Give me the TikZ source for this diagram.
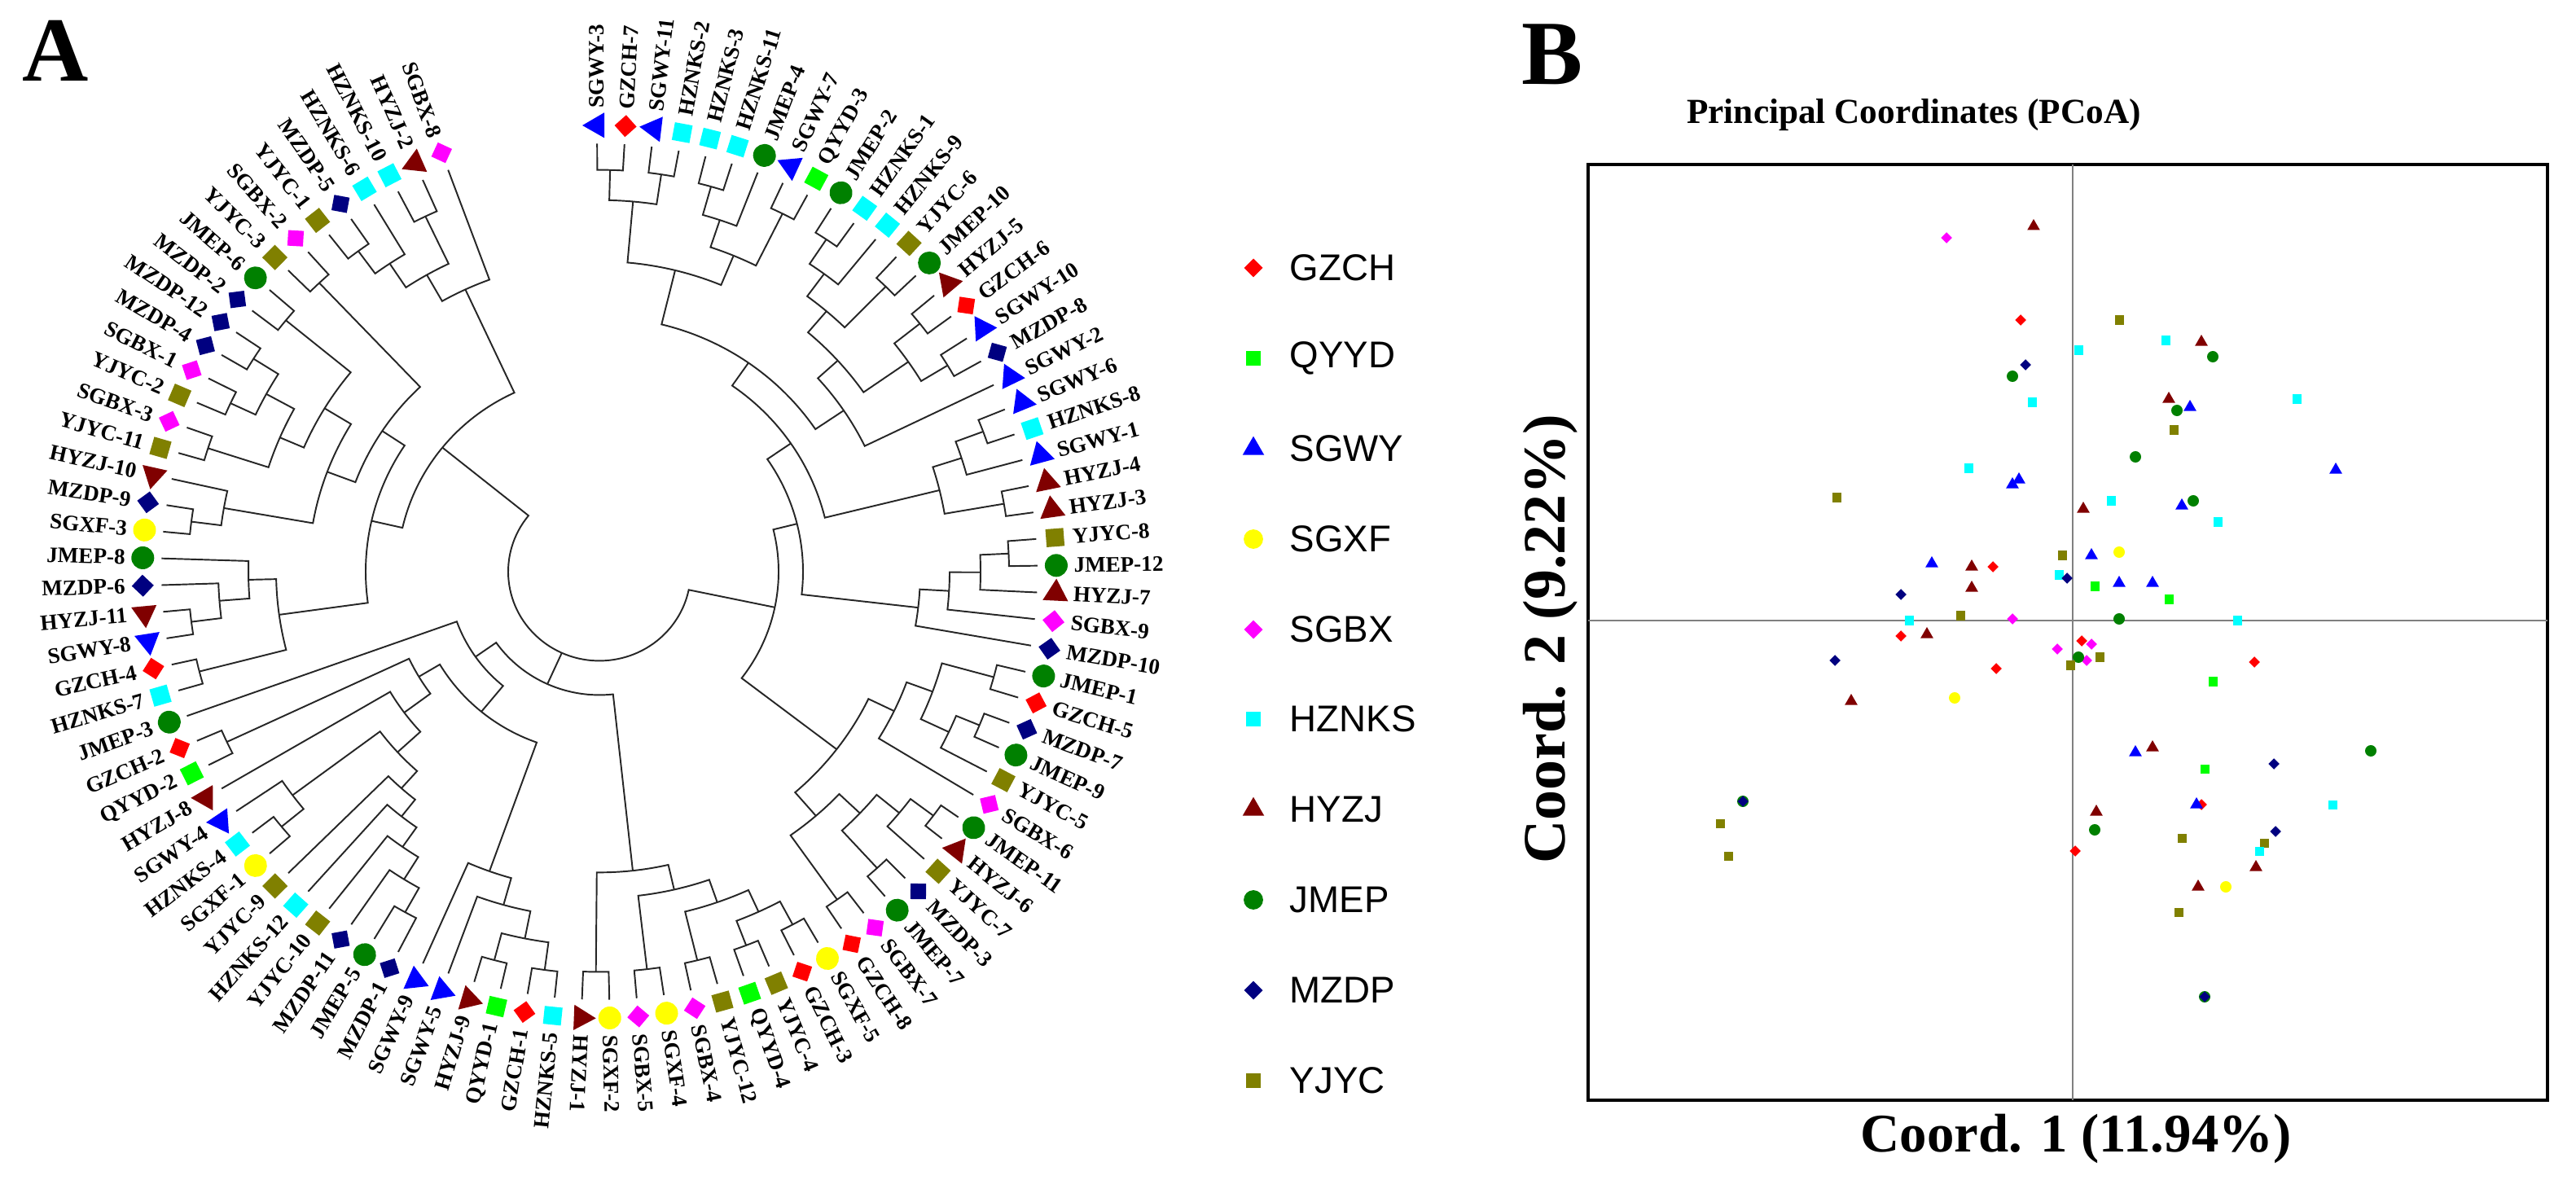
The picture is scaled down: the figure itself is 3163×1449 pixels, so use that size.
\documentclass[tikz,border=0pt]{standalone}
\usepackage{fontspec}
\setmainfont{Liberation Serif}
\newfontfamily\legfont{Liberation Sans}
\usetikzlibrary{shapes.geometric}

\definecolor{cGZCH}{HTML}{FF0000}
\definecolor{cQYYD}{HTML}{00FF00}
\definecolor{cSGWY}{HTML}{0000FF}
\definecolor{cSGXF}{HTML}{FFFF00}
\definecolor{cSGBX}{HTML}{FF00FF}
\definecolor{cHZNKS}{HTML}{00FFFF}
\definecolor{cHYZJ}{HTML}{800000}
\definecolor{cJMEP}{HTML}{008000}
\definecolor{cMZDP}{HTML}{000080}
\definecolor{cYJYC}{HTML}{808000}

\newcommand*{\mks}{1}
\tikzset{
  mk/.style={inner sep=0pt, outer sep=0pt, draw=none},
  gzch/.style={mk, diamond, fill=cGZCH, minimum size=\mks*0.27cm},
  qyyd/.style={mk, rectangle, fill=cQYYD, minimum size=\mks*0.22cm},
  sgwy/.style={mk, regular polygon, regular polygon sides=3, fill=cSGWY, minimum size=\mks*0.36cm},
  sgxf/.style={mk, circle, fill=cSGXF, minimum size=\mks*0.28cm},
  sgbx/.style={mk, diamond, fill=cSGBX, minimum size=\mks*0.27cm},
  hznks/.style={mk, rectangle, fill=cHZNKS, minimum size=\mks*0.22cm},
  hyzj/.style={mk, regular polygon, regular polygon sides=3, fill=cHYZJ, minimum size=\mks*0.36cm},
  jmep/.style={mk, circle, fill=cJMEP, minimum size=\mks*0.28cm},
  mzdp/.style={mk, diamond, fill=cMZDP, minimum size=\mks*0.27cm},
  yjyc/.style={mk, rectangle, fill=cYJYC, minimum size=\mks*0.22cm},
  lab/.style={inner sep=0pt, font=\fontsize{7.7}{8}\selectfont\bfseries},
  leg/.style={inner sep=0pt, anchor=west, font=\legfont\fontsize{13}{15}\selectfont},
  branch/.style={line width=0.55pt, draw=black!85},
}

% leaf: index, label, style
\newcommand{\tleaf}[3]{%
  \pgfmathsetmacro\tla{90.3-(#1-1)*3.58}%
  \expandafter\xdef\csname tA@#1\endcsname{\tla}%
  \expandafter\xdef\csname tR@#1\endcsname{538}%
  \node[#3, rotate=\tla] (m#1) at (\tla:561) {};%
  \ifnum#1<53
    \node[lab, anchor=west, rotate=\tla] (l#1) at (\tla:582) {#2};%
  \else
    \node[lab, anchor=east, rotate=\tla+180] (l#1) at (\tla:582) {#2};%
  \fi
}
% join: name, child, child, radius
\newcommand{\tjoin}[4]{%
  \edef\tca{\csname tA@#2\endcsname}\edef\tcb{\csname tA@#3\endcsname}%
  \edef\tra{\csname tR@#2\endcsname}\edef\trb{\csname tR@#3\endcsname}%
  \draw[branch] (\tca:\tra) -- (\tca:#4) arc[start angle=\tca, end angle=\tcb, radius=#4] -- (\tcb:\trb);%
  \pgfmathsetmacro\tm{(\tca+\tcb)/2}%
  \expandafter\xdef\csname tA@#1\endcsname{\tm}%
  \expandafter\xdef\csname tR@#1\endcsname{#4}%
}
% root with three children
\newcommand{\troot}[4]{%
  \edef\tca{\csname tA@#1\endcsname}\edef\tcb{\csname tA@#2\endcsname}\edef\tcc{\csname tA@#3\endcsname}%
  \edef\tra{\csname tR@#1\endcsname}\edef\trb{\csname tR@#2\endcsname}\edef\trc{\csname tR@#3\endcsname}%
  \draw[branch] (\tca:\tra) -- (\tca:#4) arc[start angle=\tca, end angle=\tcc, radius=#4] -- (\tcc:\trc);%
  \draw[branch] (\tcb:#4) -- (\tcb:\trb);%
}

\begin{document}
\begin{tikzpicture}[x=0.01cm, y=-0.01cm]
\useasboundingbox (0,0) rectangle (3163,1449);

\node[font=\fontsize{32}{34}\selectfont\bfseries] (pA) at (68,62) {A};
\node[font=\fontsize{32}{34}\selectfont\bfseries] (pB) at (1906,67) {B};

% tree
\begin{scope}[shift={(736,702)}, x=0.01cm, y=0.00977cm]
 \tleaf{1}{SGWY-3}{sgwy}
 \tleaf{2}{GZCH-7}{gzch}
 \tleaf{3}{SGWY-11}{sgwy}
 \tleaf{4}{HZNKS-2}{hznks}
 \tleaf{5}{HZNKS-3}{hznks}
 \tleaf{6}{HZNKS-11}{hznks}
 \tleaf{7}{JMEP-4}{jmep}
 \tleaf{8}{SGWY-7}{sgwy}
 \tleaf{9}{QYYD-3}{qyyd}
 \tleaf{10}{JMEP-2}{jmep}
 \tleaf{11}{HZNKS-1}{hznks}
 \tleaf{12}{HZNKS-9}{hznks}
 \tleaf{13}{YJYC-6}{yjyc}
 \tleaf{14}{JMEP-10}{jmep}
 \tleaf{15}{HYZJ-5}{hyzj}
 \tleaf{16}{GZCH-6}{gzch}
 \tleaf{17}{SGWY-10}{sgwy}
 \tleaf{18}{MZDP-8}{mzdp}
 \tleaf{19}{SGWY-2}{sgwy}
 \tleaf{20}{SGWY-6}{sgwy}
 \tleaf{21}{HZNKS-8}{hznks}
 \tleaf{22}{SGWY-1}{sgwy}
 \tleaf{23}{HYZJ-4}{hyzj}
 \tleaf{24}{HYZJ-3}{hyzj}
 \tleaf{25}{YJYC-8}{yjyc}
 \tleaf{26}{JMEP-12}{jmep}
 \tleaf{27}{HYZJ-7}{hyzj}
 \tleaf{28}{SGBX-9}{sgbx}
 \tleaf{29}{MZDP-10}{mzdp}
 \tleaf{30}{JMEP-1}{jmep}
 \tleaf{31}{GZCH-5}{gzch}
 \tleaf{32}{MZDP-7}{mzdp}
 \tleaf{33}{JMEP-9}{jmep}
 \tleaf{34}{YJYC-5}{yjyc}
 \tleaf{35}{SGBX-6}{sgbx}
 \tleaf{36}{JMEP-11}{jmep}
 \tleaf{37}{HYZJ-6}{hyzj}
 \tleaf{38}{YJYC-7}{yjyc}
 \tleaf{39}{MZDP-3}{mzdp}
 \tleaf{40}{JMEP-7}{jmep}
 \tleaf{41}{SGBX-7}{sgbx}
 \tleaf{42}{GZCH-8}{gzch}
 \tleaf{43}{SGXF-5}{sgxf}
 \tleaf{44}{GZCH-3}{gzch}
 \tleaf{45}{YJYC-4}{yjyc}
 \tleaf{46}{QYYD-4}{qyyd}
 \tleaf{47}{YJYC-12}{yjyc}
 \tleaf{48}{SGBX-4}{sgbx}
 \tleaf{49}{SGXF-4}{sgxf}
 \tleaf{50}{SGBX-5}{sgbx}
 \tleaf{51}{SGXF-2}{sgxf}
 \tleaf{52}{HYZJ-1}{hyzj}
 \tleaf{53}{HZNKS-5}{hznks}
 \tleaf{54}{GZCH-1}{gzch}
 \tleaf{55}{QYYD-1}{qyyd}
 \tleaf{56}{HYZJ-9}{hyzj}
 \tleaf{57}{SGWY-5}{sgwy}
 \tleaf{58}{SGWY-9}{sgwy}
 \tleaf{59}{MZDP-1}{mzdp}
 \tleaf{60}{JMEP-5}{jmep}
 \tleaf{61}{MZDP-11}{mzdp}
 \tleaf{62}{YJYC-10}{yjyc}
 \tleaf{63}{HZNKS-12}{hznks}
 \tleaf{64}{YJYC-9}{yjyc}
 \tleaf{65}{SGXF-1}{sgxf}
 \tleaf{66}{HZNKS-4}{hznks}
 \tleaf{67}{SGWY-4}{sgwy}
 \tleaf{68}{HYZJ-8}{hyzj}
 \tleaf{69}{QYYD-2}{qyyd}
 \tleaf{70}{GZCH-2}{gzch}
 \tleaf{71}{JMEP-3}{jmep}
 \tleaf{72}{HZNKS-7}{hznks}
 \tleaf{73}{GZCH-4}{gzch}
 \tleaf{74}{SGWY-8}{sgwy}
 \tleaf{75}{HYZJ-11}{hyzj}
 \tleaf{76}{MZDP-6}{mzdp}
 \tleaf{77}{JMEP-8}{jmep}
 \tleaf{78}{SGXF-3}{sgxf}
 \tleaf{79}{MZDP-9}{mzdp}
 \tleaf{80}{HYZJ-10}{hyzj}
 \tleaf{81}{YJYC-11}{yjyc}
 \tleaf{82}{SGBX-3}{sgbx}
 \tleaf{83}{YJYC-2}{yjyc}
 \tleaf{84}{SGBX-1}{sgbx}
 \tleaf{85}{MZDP-4}{mzdp}
 \tleaf{86}{MZDP-12}{mzdp}
 \tleaf{87}{MZDP-2}{mzdp}
 \tleaf{88}{JMEP-6}{jmep}
 \tleaf{89}{YJYC-3}{yjyc}
 \tleaf{90}{SGBX-2}{sgbx}
 \tleaf{91}{YJYC-1}{yjyc}
 \tleaf{92}{MZDP-5}{mzdp}
 \tleaf{93}{HZNKS-6}{hznks}
 \tleaf{94}{HZNKS-10}{hznks}
 \tleaf{95}{HYZJ-2}{hyzj}
 \tleaf{96}{SGBX-8}{sgbx}
 % right clade
 \tjoin{A1}{1}{2}{505}
 \tjoin{A2}{3}{4}{505}
 \tjoin{A3}{A1}{A2}{467}
 \tjoin{A4}{5}{6}{503}
 \tjoin{A5}{A4}{7}{466}
 \tjoin{A6}{8}{9}{503}
 \tjoin{A7}{A5}{A6}{430}
 \tjoin{A8}{A3}{A7}{390}
 \tjoin{B1}{10}{11}{502}
 \tjoin{B2}{B1}{12}{465}
 \tjoin{C1}{13}{14}{502}
 \tjoin{B3}{B2}{C1}{430}
 \tjoin{C2}{15}{16}{502}
 \tjoin{C3}{17}{18}{500}
 \tjoin{C4}{C2}{C3}{462}
 \tjoin{B4}{B3}{C4}{395}
 \tjoin{D1}{B4}{19}{362}
 \tjoin{A9}{A8}{D1}{320}
 \tjoin{D2}{20}{21}{503}
 \tjoin{D3}{D2}{22}{467}
 \tjoin{D4}{23}{24}{504}
 \tjoin{D5}{D3}{D4}{430}
 \tjoin{G1}{A9}{D5}{285}
 \tjoin{E1}{25}{26}{503}
 \tjoin{E2}{E1}{27}{468}
 \tjoin{E3}{E2}{28}{430}
 \tjoin{E4}{E3}{29}{394}
 \tjoin{G2}{G1}{E4}{250}
 \tjoin{F1}{30}{31}{502}
 \tjoin{F4}{32}{33}{505}
 \tjoin{F5}{F4}{34}{474}
 \tjoin{F6}{F1}{F5}{436}
 \tjoin{F7}{F6}{35}{402}
 \tjoin{R1}{36}{37}{512}
 \tjoin{R2}{R1}{38}{477}
 \tjoin{Q0}{39}{40}{505}
 \tjoin{R3}{R2}{Q0}{441}
 \tjoin{Q1}{41}{42}{505}
 \tjoin{I1}{R3}{Q1}{406}
 \tjoin{H1}{F7}{I1}{367}
 \tjoin{G3}{G2}{H1}{220}
 % bottom clade
 \tjoin{P1}{51}{52}{503}
 \tjoin{P2}{49}{50}{503}
 \tjoin{P3}{47}{48}{503}
 \tjoin{P4}{45}{46}{503}
 \tjoin{P5}{43}{44}{503}
 \tjoin{P6}{P5}{P4}{470}
 \tjoin{P7}{P6}{P3}{440}
 \tjoin{P8}{P7}{P2}{410}
 \tjoin{P9}{P8}{P1}{378}
 \tjoin{U1}{53}{54}{505}
 \tjoin{U2}{55}{56}{505}
 \tjoin{U3}{U1}{U2}{470}
 \tjoin{U4}{U3}{57}{435}
 \tjoin{U5}{U4}{58}{400}
 \tjoin{V1}{59}{60}{490}
 \tjoin{V2}{V1}{61}{455}
 \tjoin{V3}{V2}{62}{422}
 \tjoin{V4}{V3}{63}{392}
 \tjoin{V5}{V4}{64}{365}
 \tjoin{W1}{65}{66}{505}
 \tjoin{W2}{W1}{67}{470}
 \tjoin{Z1}{W2}{V5}{336}
 \tjoin{Z2}{68}{Z1}{298}
 \tjoin{X1}{69}{70}{505}
 \tjoin{Z3}{X1}{Z2}{258}
 \tjoin{Z4}{Z3}{U5}{228}
 \tjoin{Z5}{71}{Z4}{186}
 \tjoin{CII}{Z5}{P9}{155}
 % left clade
 \tjoin{S4}{72}{73}{507}
 \tjoin{S1}{74}{75}{505}
 \tjoin{S2}{76}{S1}{468}
 \tjoin{S3}{77}{S2}{431}
 \tjoin{S5}{S4}{S3}{397}
 \tjoin{T1}{78}{79}{505}
 \tjoin{T2}{T1}{80}{468}
 \tjoin{J1}{81}{82}{505}
 \tjoin{K1}{83}{84}{500}
 \tjoin{M3}{85}{86}{502}
 \tjoin{K2}{K1}{M3}{466}
 \tjoin{K3}{J1}{K2}{427}
 \tjoin{M2}{87}{88}{498}
 \tjoin{K4}{K3}{M2}{395}
 \tjoin{T3}{T2}{K4}{357}
 \tjoin{M1}{89}{90}{500}
 \tjoin{T4}{T3}{M1}{320}
 \tjoin{S6}{S5}{T4}{287}
 \tjoin{L4}{91}{92}{500}
 \tjoin{L5}{L4}{93}{465}
 \tjoin{L3}{94}{95}{495}
 \tjoin{L6}{L5}{L3}{429}
 \tjoin{L7}{L6}{96}{391}
 \tjoin{CI}{S6}{L7}{248}
 \troot{CI}{CII}{G3}{112}
\end{scope}

% legend
\renewcommand*{\mks}{0.85}
\node[gzch] (k1) at (1539,329) {};   \node[leg] (t1) at (1583,329) {GZCH};
\node[qyyd] (k2) at (1539,440) {};   \node[leg] (t2) at (1583,440) {QYYD};
\node[sgwy] (k3) at (1539,551) {};   \node[leg] (t3) at (1583,551) {SGWY};
\node[sgxf] (k4) at (1539,662) {};   \node[leg] (t4) at (1583,662) {SGXF};
\node[sgbx] (k5) at (1539,773) {};   \node[leg] (t5) at (1583,773) {SGBX};
\node[hznks] (k6) at (1539,883) {};  \node[leg] (t6) at (1583,883) {HZNKS};
\node[hyzj] (k7) at (1539,994) {};   \node[leg] (t7) at (1583,994) {HYZJ};
\node[jmep] (k8) at (1539,1105) {};  \node[leg] (t8) at (1583,1105) {JMEP};
\node[mzdp] (k9) at (1539,1216) {};  \node[leg] (t9) at (1583,1216) {MZDP};
\node[yjyc] (k10) at (1539,1327) {}; \node[leg] (t10) at (1583,1327) {YJYC};

% PCoA panel
\node[font=\fontsize{12.3}{14}\selectfont\bfseries] (title) at (2350,141) {Principal Coordinates (PCoA)};
\draw[line width=0.9pt] (1950,202) rectangle (3128,1351);
\draw[gray, line width=0.6pt] (2545,202) -- (2545,1351);
\draw[gray, line width=0.6pt] (1950,762) -- (3128,762);
\node[font=\fontsize{19}{21}\selectfont\bfseries] (xlab) at (2549,1398) {Coord. 1 (11.94\%)};
\node[font=\fontsize{21}{23}\selectfont\bfseries, rotate=90] (ylab) at (1904,785) {Coord. 2 (9.22\%)};

\renewcommand*{\mks}{0.5}
\node[sgbx] (p1) at (2390,292) {};
\node[hyzj] (p2) at (2497,278) {};
\node[gzch] (p3) at (2481,393) {};
\node[yjyc] (p4) at (2602,393) {};
\node[hznks] (p5) at (2552,430) {};
\node[hznks] (p6) at (2659,418) {};
\node[hyzj] (p7) at (2703,420) {};
\node[jmep] (p8) at (2717,438) {};
\node[mzdp] (p9) at (2487,448) {};
\node[jmep] (p10) at (2471,462) {};
\node[hznks] (p11) at (2495,494) {};
\node[hznks] (p12) at (2820,490) {};
\node[hyzj] (p13) at (2663,490) {};
\node[sgwy] (p14) at (2689,500) {};
\node[jmep] (p15) at (2673,504) {};
\node[yjyc] (p16) at (2669,528) {};
\node[jmep] (p17) at (2622,561) {};
\node[hznks] (p18) at (2417,575) {};
\node[sgwy] (p19) at (2471,595) {};
\node[sgwy] (p20) at (2479,589) {};
\node[sgwy] (p21) at (2868,577) {};
\node[jmep] (p22) at (2693,615) {};
\node[hznks] (p23) at (2592,615) {};
\node[hyzj] (p24) at (2558,625) {};
\node[sgwy] (p25) at (2679,621) {};
\node[hznks] (p26) at (2723,641) {};
\node[yjyc] (p27) at (2255,611) {};
\node[yjyc] (p28) at (2532,682) {};
\node[sgxf] (p29) at (2602,678) {};
\node[sgwy] (p30) at (2568,682) {};
\node[gzch] (p31) at (2447,696) {};
\node[hyzj] (p32) at (2421,696) {};
\node[sgwy] (p33) at (2372,692) {};
\node[hyzj] (p34) at (2421,722) {};
\node[mzdp] (p35) at (2334,730) {};
\node[hznks] (p36) at (2528,706) {};
\node[mzdp] (p37) at (2538,710) {};
\node[qyyd] (p38) at (2572,720) {};
\node[sgwy] (p39) at (2602,716) {};
\node[sgwy] (p40) at (2643,716) {};
\node[qyyd] (p41) at (2663,736) {};
\node[yjyc] (p42) at (2407,756) {};
\node[hznks] (p43) at (2344,762) {};
\node[sgbx] (p44) at (2471,760) {};
\node[jmep] (p45) at (2602,760) {};
\node[gzch] (p46) at (2334,781) {};
\node[hyzj] (p47) at (2366,779) {};
\node[hznks] (p48) at (2747,762) {};
\node[gzch] (p49) at (2556,787) {};
\node[sgbx] (p50) at (2526,797) {};
\node[sgbx] (p51) at (2568,791) {};
\node[sgbx] (p52) at (2562,811) {};
\node[yjyc] (p53) at (2578,807) {};
\node[jmep] (p54) at (2552,807) {};
\node[yjyc] (p55) at (2542,817) {};
\node[mzdp] (p56) at (2253,811) {};
\node[gzch] (p57) at (2451,821) {};
\node[gzch] (p58) at (2768,813) {};
\node[qyyd] (p59) at (2717,837) {};
\node[hyzj] (p60) at (2273,861) {};
\node[sgxf] (p61) at (2400,857) {};
\node[sgwy] (p62) at (2622,924) {};
\node[hyzj] (p63) at (2643,918) {};
\node[mzdp] (p64) at (2792,938) {};
\node[jmep] (p65) at (2911,922) {};
\node[qyyd] (p66) at (2707,944) {};
\node[gzch] (p67) at (2703,988) {};
\node[hznks] (p68) at (2864,988) {};
\node[hyzj] (p69) at (2574,997) {};
\node[mzdp] (p70) at (2794,1021) {};
\node[yjyc] (p71) at (2112,1011) {};
\node[yjyc] (p72) at (2122,1051) {};
\node[jmep] (p73) at (2140,984) {};
\node[mzdp] (p74) at (2140,984) {};
\node[jmep] (p75) at (2572,1019) {};
\node[sgwy] (p76) at (2697,988) {};
\node[yjyc] (p77) at (2679,1029) {};
\node[gzch] (p78) at (2548,1045) {};
\node[yjyc] (p79) at (2780,1035) {};
\node[hznks] (p80) at (2774,1045) {};
\node[hyzj] (p81) at (2770,1065) {};
\node[hyzj] (p82) at (2699,1089) {};
\node[sgxf] (p83) at (2733,1089) {};
\node[yjyc] (p84) at (2675,1120) {};
\node[jmep] (p85) at (2707,1224) {};
\node[mzdp] (p86) at (2707,1224) {};
\end{tikzpicture}
\end{document}
